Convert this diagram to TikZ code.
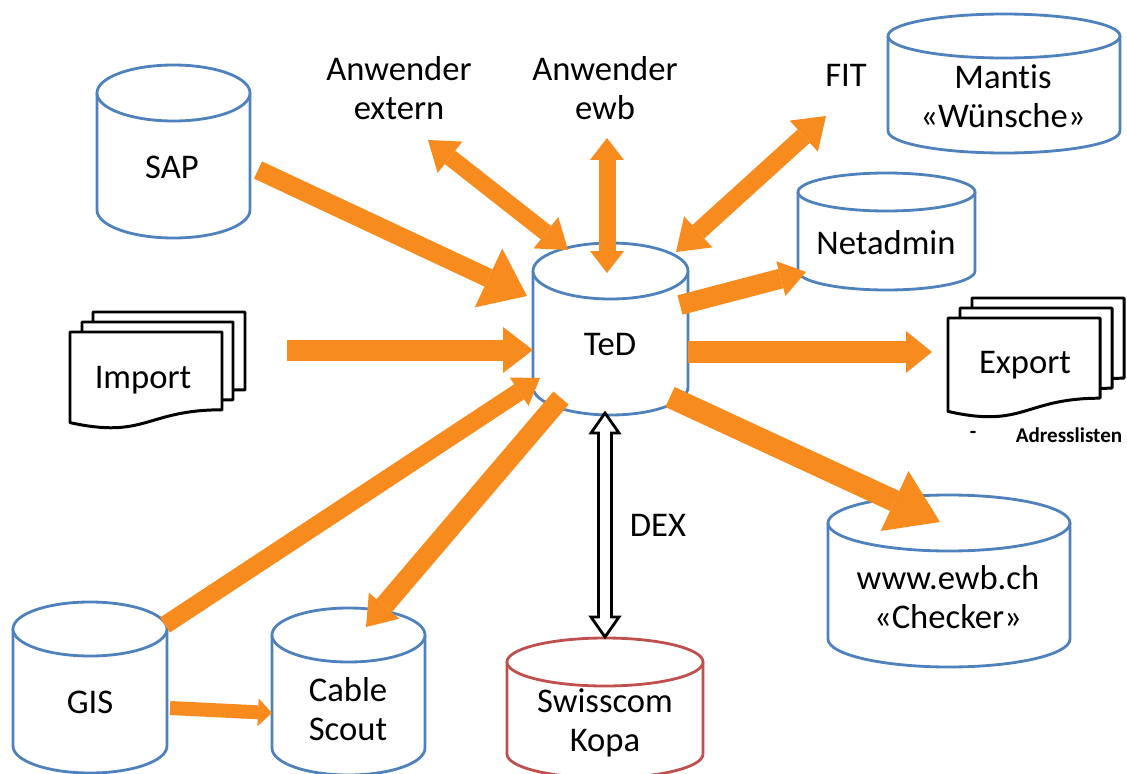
\documentclass[tikz,border=0pt]{standalone}
\usepackage{fontspec}
\setmainfont{Carlito}[Ligatures=NoCommon]
\usetikzlibrary{arrows.meta,calc}
\definecolor{dbblue}{RGB}{79,129,189}
\definecolor{dbred}{RGB}{192,80,77}
\definecolor{flowc}{RGB}{247,139,30}
\tikzset{
  cylline/.style={line width=1.6pt, fill=white},
  docline/.style={line width=1.7pt, draw=black, fill=white, line join=round},
  lbl/.style={font=\fontsize{19.7}{22.5}\selectfont, align=center, inner sep=0pt, text=black},
  smalllbl/.style={font=\fontsize{12}{14}\selectfont\bfseries, inner sep=0pt, text=black},
  oarr/.style={draw=flowc, line width=#1},
  dexline/.style={line width=1.6pt, draw=black, fill=white, line join=miter},
}
\newcommand{\dbcyl}[7]{% name, colour, xl, xr, ytop, ybottom, ry
  \pgfmathsetmacro\cylcx{(#3+#4)/2}%
  \pgfmathsetmacro\cylrx{(#4-#3)/2}%
  \pgfmathsetmacro\cylyt{#5+#7}%
  \pgfmathsetmacro\cylyb{#6-#7}%
  \pgfmathsetmacro\cylkx{0.5523*\cylrx}%
  \pgfmathsetmacro\cylky{0.5523*#7}%
  \draw[cylline, draw=#2] (#3,\cylyt) -- (#3,\cylyb)
     .. controls (#3,{\cylyb+\cylky}) and ({\cylcx-\cylkx},#6) .. (\cylcx,#6)
     .. controls ({\cylcx+\cylkx},#6) and (#4,{\cylyb+\cylky}) .. (#4,\cylyb) -- (#4,\cylyt);
  \draw[cylline, draw=#2] (#3,\cylyt)
     .. controls (#3,{\cylyt-\cylky}) and ({\cylcx-\cylkx},#5) .. (\cylcx,#5)
     .. controls ({\cylcx+\cylkx},#5) and (#4,{\cylyt-\cylky}) .. (#4,\cylyt)
     .. controls (#4,{\cylyt+\cylky}) and ({\cylcx+\cylkx},{\cylyt+#7}) .. (\cylcx,{\cylyt+#7})
     .. controls ({\cylcx-\cylkx},{\cylyt+#7}) and (#3,{\cylyt+\cylky}) .. (#3,\cylyt) -- cycle;
  \coordinate (#1) at (\cylcx,{(\cylyt+#6)/2});
}
\newcommand{\docpage}[4]{% x0, y0, w, h
  \draw[docline] (#1,#2) -- ({#1+#3},#2) -- ({#1+#3},{#2+0.802*#4})
     .. controls ({#1+0.5*#3},{#2+0.802*#4}) and ({#1+0.5*#3},{#2+1.1075*#4}) .. (#1,{#2+0.934*#4}) -- cycle;
}
\begin{document}
\begin{tikzpicture}[x=0.02cm, y=-0.02cm]
\useasboundingbox (0,0) rectangle (1127,774);

% databases
\dbcyl{sapc}{dbblue}{97}{250}{65}{238}{28}
\dbcyl{mantisc}{dbblue}{888}{1120}{14}{153}{22}
\dbcyl{netc}{dbblue}{798}{975}{173}{290}{19}
\dbcyl{tedc}{dbblue}{533}{688}{243}{415}{28}
\dbcyl{checkc}{dbblue}{828}{1070}{495}{667}{28}
\dbcyl{kopac}{dbred}{507}{703}{638}{778}{24}
\dbcyl{gisc}{dbblue}{13}{167}{602}{773}{27}
\dbcyl{cablec}{dbblue}{272}{425}{608}{775}{27}

% document stacks
\docpage{93}{312}{152}{97}
\docpage{82}{322}{151}{97}
\docpage{70}{332}{152}{97}
\docpage{972}{298}{152}{100}
\docpage{960}{308}{152}{100}
\docpage{948}{318}{152}{100}

% labels
\node[lbl] (sap) at (172,167) {SAP};
\node[lbl] (extern) at (399,88) {Anwender\\extern};
\node[lbl] (ewb) at (605,88) {Anwender\\ewb};
\node[lbl] (fit) at (846,75) {FIT};
\node[lbl] (mantis) at (1003,96) {Mantis\\«Wünsche»};
\node[lbl] (netadmin) at (886,243) {Netadmin};
\node[lbl] (ted) at (610,345) {TeD};
\node[lbl] (import) at (143,380) {Import};
\node[lbl] (export) at (1025,365) {Export};
\node[smalllbl] (dash) at (973,435) {-};
\node[smalllbl] (adr) at (1069,435) {Adresslisten};
\node[lbl] (dex) at (658,525) {DEX};
\node[lbl] (checker) at (948,597) {www.ewb.ch\\«Checker»};
\node[lbl] (kopa) at (605,723) {Swisscom\\Kopa};
\node[lbl] (gis) at (90,702) {GIS};
\node[lbl] (cable) at (348,709) {Cable\\Scout};

% arrow end points
\coordinate (sapout) at (258,170);   \coordinate (tedsap) at (527,296);
\coordinate (impout) at (287,350);   \coordinate (tedimp) at (533,350);
\coordinate (extend) at (428,140);   \coordinate (tedext) at (568,250);
\coordinate (ewbend) at (607,138);   \coordinate (tedewb) at (607,273);
\coordinate (fitend) at (826,116);   \coordinate (tedfit) at (676,252);
\coordinate (tednet) at (680,305);   \coordinate (netin) at (806,272);
\coordinate (tedexp) at (688,352);   \coordinate (expin) at (932,352);
\coordinate (tedchk) at (670,397);   \coordinate (chkin) at (940,522);
\coordinate (gisout) at (165,625);   \coordinate (tedgis) at (540,378);
\coordinate (tedcab) at (561,398);   \coordinate (cabin) at (366,627);
\coordinate (gisout2) at (170,708);  \coordinate (cabin2) at (272,713);
\coordinate (dexT) at (605,413);     \coordinate (dexB) at (605,637);

% orange flows
\draw[oarr=0.38cm, -{Triangle[length=0.85cm,width=1.3cm,line width=0pt]}] (sapout) -- (tedsap);
\draw[oarr=0.42cm, -{Triangle[length=0.6cm,width=0.92cm,line width=0pt]}] (impout) -- (tedimp);
\draw[oarr=0.34cm, {Triangle[length=0.56cm,width=0.8cm,line width=0pt]}-{Triangle[length=0.56cm,width=0.8cm,line width=0pt]}] (extend) -- (tedext);
\draw[oarr=0.34cm, {Triangle[length=0.44cm,width=0.68cm,line width=0pt]}-{Triangle[length=0.44cm,width=0.68cm,line width=0pt]}] (ewbend) -- (tedewb);
\draw[oarr=0.36cm, {Triangle[length=0.6cm,width=0.84cm,line width=0pt]}-{Triangle[length=0.6cm,width=0.84cm,line width=0pt]}] (fitend) -- (tedfit);
\draw[oarr=0.4cm, -{Triangle[length=0.52cm,width=0.72cm,line width=0pt]}] (tednet) -- (netin);
\draw[oarr=0.44cm, -{Triangle[length=0.52cm,width=0.84cm,line width=0pt]}] (tedexp) -- (expin);
\draw[oarr=0.44cm, -{Triangle[length=1.0cm,width=1.32cm,line width=0pt]}] (tedchk) -- (chkin);
\draw[oarr=0.36cm, -{Triangle[length=0.5cm,width=0.68cm,line width=0pt]}] (gisout) -- (tedgis);
\draw[oarr=0.4cm, -{Triangle[length=0.56cm,width=0.8cm,line width=0pt]}] (tedcab) -- (cabin);
\draw[oarr=0.28cm, -{Triangle[length=0.28cm,width=0.56cm,line width=0pt]}] (gisout2) -- (cabin2);

% DEX hollow double arrow
\draw[dexline] (dexT) -- ($(dexT)+(14,20)$) -- ($(dexT)+(6.5,20)$) -- ($(dexB)+(6.5,-20)$)
  -- ($(dexB)+(14,-20)$) -- (dexB) -- ($(dexB)+(-14,-20)$) -- ($(dexB)+(-6.5,-20)$)
  -- ($(dexT)+(-6.5,20)$) -- ($(dexT)+(-14,20)$) -- cycle;
\end{tikzpicture}
\end{document}
